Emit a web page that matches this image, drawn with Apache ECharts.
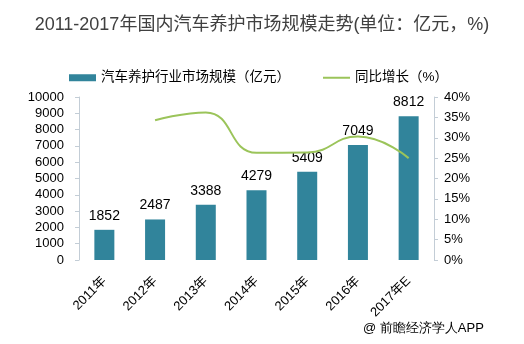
<!DOCTYPE html>
<html>
<head>
<meta charset="utf-8">
<script src="https://cdn.jsdelivr.net/npm/echarts@6/dist/echarts.min.js"></script>
<style>html,body{margin:0;padding:0;background:#fff;}#c{width:524px;height:344px;}</style>
</head>
<body>
<div id="c"></div>
<script>
var categories = ['2011年','2012年','2013年','2014年','2015年','2016年','2017年E'];
var marketSize = [1852, 2487, 3388, 4279, 5409, 7049, 8812];
var growth = [null, 34.3, 36.2, 26.3, 26.4, 30.3, 25.0];
var seriesNames = ['汽车养护行业市场规模（亿元）', '同比增长（%）'];
var titleText = '2011-2017年国内汽车养护市场规模走势(单位：亿元，%)';
var sourceText = '@ 前瞻经济学人APP';

var FONT = '"Liberation Sans", "Noto Sans CJK SC", sans-serif';
var chart = echarts.init(document.getElementById('c'), null, {renderer: 'canvas'});
chart.setOption({
  animation: false,
  backgroundColor: '#fff',
  textStyle: {fontFamily: FONT},
  title: {
    text: titleText,
    left: 'center',
    top: 11,
    textStyle: {fontSize: 18, fontWeight: 'normal', color: '#404040', fontFamily: FONT}
  },
  legend: {
    data: [
      {name: seriesNames[0], icon: 'rect'},
      {name: seriesNames[1], itemStyle: {opacity: 0, borderWidth: 0}}
    ],
    left: 64,
    top: 66,
    itemWidth: 27,
    itemHeight: 7,
    itemGap: 32,
    textStyle: {fontSize: 13.5, color: '#000', fontFamily: FONT}
  },
  grid: {left: 79, right: 90, top: 97, bottom: 84, containLabel: false},
  xAxis: {
    type: 'category',
    data: categories,
    axisLine: {show: false},
    axisTick: {show: false},
    axisLabel: {rotate: 45, fontSize: 13, color: '#000', margin: 19, interval: 0, fontFamily: FONT}
  },
  yAxis: [
    {
      type: 'value', min: 0, max: 10000, interval: 1000,
      axisLine: {show: true, lineStyle: {color: '#c3cdd6'}},
      axisTick: {show: true, length: 4, lineStyle: {color: '#c3cdd6'}},
      splitLine: {show: false},
      axisLabel: {fontSize: 13, color: '#000', margin: 15, fontFamily: FONT,
        formatter: function (v) { return String(v); }}
    },
    {
      type: 'value', min: 0, max: 40, interval: 5,
      axisLine: {show: true, lineStyle: {color: '#c3cdd6'}},
      axisTick: {show: true, length: 4, lineStyle: {color: '#c3cdd6'}},
      splitLine: {show: false},
      axisLabel: {fontSize: 13, color: '#000', margin: 10, formatter: '{value}%', fontFamily: FONT}
    }
  ],
  series: [
    {
      name: seriesNames[0],
      type: 'bar',
      data: marketSize,
      barWidth: 20,
      itemStyle: {color: '#31849b'},
      label: {show: true, position: 'top', distance: 7, fontSize: 14, color: '#000', fontFamily: FONT}
    },
    {
      name: seriesNames[1],
      type: 'line',
      yAxisIndex: 1,
      data: growth,
      smooth: 0.5,
      symbol: 'none',
      lineStyle: {color: '#9bc45a', width: 2},
      itemStyle: {color: '#9bc45a'}
    }
  ],
  graphic: [
    {
      type: 'text', left: 363, top: 322,
      style: {text: sourceText, fontSize: 13, fill: '#000', font: '13px ' + FONT}
    }
  ]
});
</script>
</body>
</html>
